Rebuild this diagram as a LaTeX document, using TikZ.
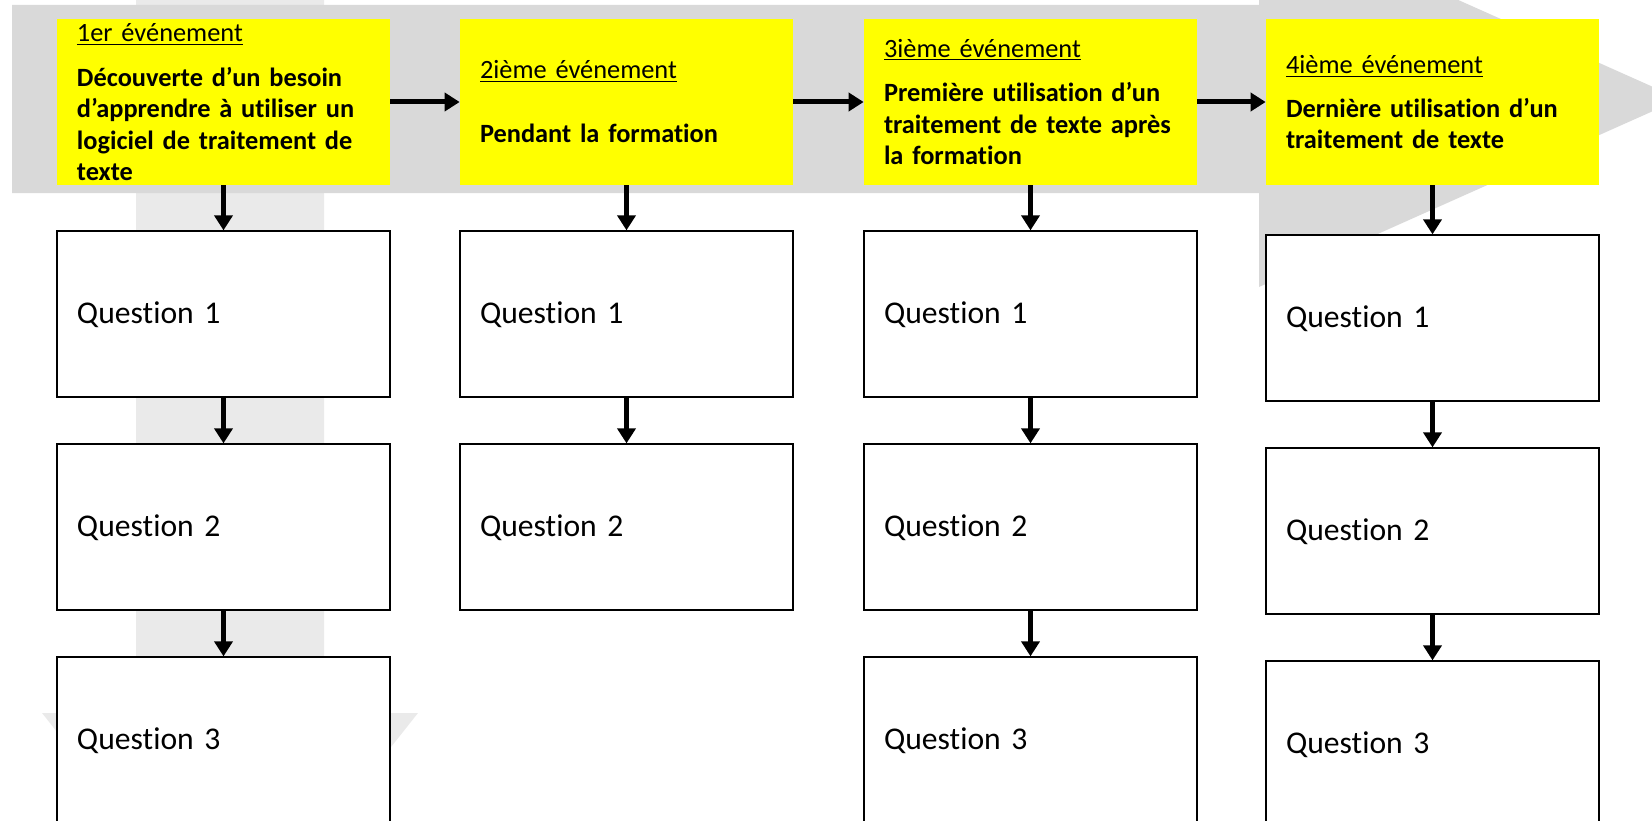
\documentclass[tikz,border=0pt]{standalone}
\usepackage{fontspec}
\setmainfont{Carlito}[Ligatures=NoCommon]
\usetikzlibrary{positioning, arrows.meta}
\usepackage{xcolor}

\definecolor{bandgrey}{HTML}{D9D9D9}
\definecolor{stemgrey}{HTML}{EAEAEA}
\definecolor{eventyellow}{HTML}{FFFF00}

\tikzset{
    event/.style={fill=eventyellow, minimum height=33.2mm, text width=58.6mm, inner xsep=4mm, inner ysep=0pt,
        align=left, font=\fontsize{15}{17.9}\selectfont},
    question/.style={draw, fill=white, line width=0.4mm, minimum height=33.2mm, text width=58.6mm, inner xsep=4mm,
        align=left, font=\fontsize{18}{21.6}\selectfont},
    flow/.style={line width=1mm, -{Triangle[width=3.6mm, length=3mm]}},
}

\begin{document}
\begin{tikzpicture}[x=0.2mm, y=-0.2mm]
        \useasboundingbox (0,0) rectangle (1652,821);
        \clip (0,0) rectangle (1652,821);

        % background arrows
        \fill[stemgrey] (136,0) -- (324,0) -- (324,713) -- (418,713) -- (230,950) -- (42,713) -- (136,713) -- cycle;
        \fill[bandgrey] (12,5) -- (1259,5) -- (1259,-89) -- (1680,99) -- (1259,287) -- (1259,193) -- (12,193) -- cycle;

        \begin{scope}
            \node[event] (ev1) at (223.5,102) {\underline{1er événement}\\[2.7mm]\bfseries Découverte d’un besoin\\d’apprendre à utiliser un\\logiciel de traitement de\\texte};
            \node[question, below=9mm of ev1] (q11) {Question 1};
            \node[question, below=9mm of q11] (q12) {Question 2};
            \node[question, below=9mm of q12] (q13) {Question 3};
        \end{scope}

        \begin{scope}
            \node[event] (ev2) at (626.5,102) {\underline{2ième événement}\\[6.5mm]\bfseries Pendant la formation};
            \node[question, below=9mm of ev2] (q21) {Question 1};
            \node[question, below=9mm of q21] (q22) {Question 2};
        \end{scope}

        \begin{scope}
            \node[event] (ev3) at (1030.5,102) {\underline{3ième événement}\\[2.7mm]\bfseries Première utilisation d’un\\traitement de texte après\\la formation};
            \node[question, below=9mm of ev3] (q31) {Question 1};
            \node[question, below=9mm of q31] (q32) {Question 2};
            \node[question, below=9mm of q32] (q33) {Question 3};
        \end{scope}

        \begin{scope}
            \node[event] (ev4) at (1432.5,102) {\underline{4ième événement}\\[2.5mm]\bfseries Dernière utilisation d’un\\traitement de texte};
            \node[question, below=9.8mm of ev4] (q41) {Question 1};
            \node[question, below=9mm of q41] (q42) {Question 2};
            \node[question, below=9mm of q42] (q43) {Question 3};
        \end{scope}

        \draw[flow] (ev1) -- (ev2);
        \draw[flow] (ev2) -- (ev3);
        \draw[flow] (ev3) -- (ev4);

        \draw[flow] (ev1) -- (q11);
        \draw[flow] (q11) -- (q12);
        \draw[flow] (q12) -- (q13);
        \draw[flow] (ev2) -- (q21);
        \draw[flow] (q21) -- (q22);
        \draw[flow] (ev3) -- (q31);
        \draw[flow] (q31) -- (q32);
        \draw[flow] (q32) -- (q33);
        \draw[flow] (ev4) -- (q41);
        \draw[flow] (q41) -- (q42);
        \draw[flow] (q42) -- (q43);
    \end{tikzpicture}
\end{document}
